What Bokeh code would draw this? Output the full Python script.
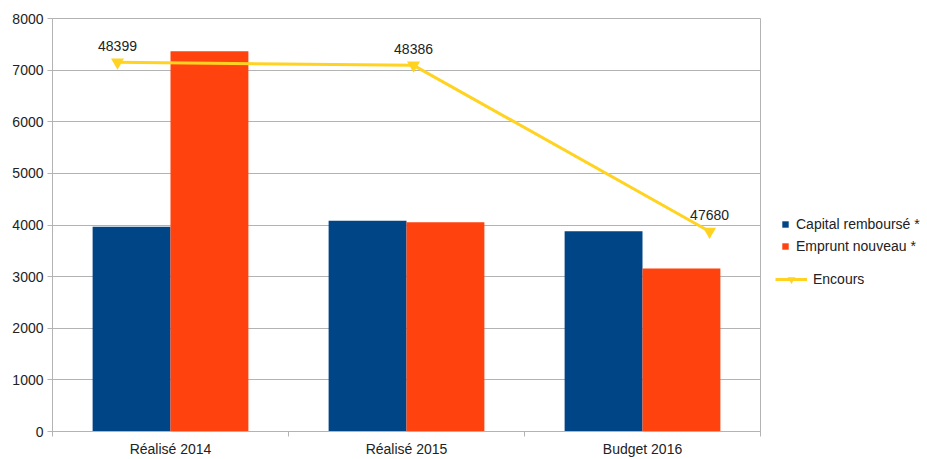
from bokeh.plotting import figure
from bokeh.layouts import row
from bokeh.models import (ColumnDataSource, Range1d, FixedTicker, Legend, LegendItem)
from bokeh.transform import dodge
from bokeh.embed import file_html
from bokeh.resources import INLINE
import numpy as np

categories = ["Réalisé 2014", "Réalisé 2015", "Budget 2016"]
capital = [3965, 4081, 3880]
emprunt = [7364, 4054, 3155]
encours = [48399, 48386, 47680]
y_ticks = [0, 1000, 2000, 3000, 4000, 5000, 6000, 7000, 8000]
series_names = ["Capital remboursé *", "Emprunt nouveau *", "Encours"]

FONT = "Liberation Sans"
TXT = "#222222"
GRID = "#b3b3b3"
C_CAP = "#004586"
C_EMP = "#ff420e"
C_ENC = "#ffd320"

idx = np.arange(len(categories))
src = ColumnDataSource(dict(x=idx + 0.5, cap=capital, emp=emprunt))
lsrc = ColumnDataSource(dict(i=idx, enc=encours, lab=[str(v) for v in encours]))

p = figure(width=770, height=459, output_backend="svg", toolbar_location=None,
           x_range=Range1d(0, len(categories)), y_range=Range1d(0, 8000),
           min_border_left=52, min_border_right=10, min_border_top=18,
           min_border_bottom=26)
p.extra_y_ranges = {"enc": Range1d(46830, 48585)}
p.extra_x_ranges = {"encx": Range1d(-0.2196, 2.172)}

p.background_fill_color = "white"
p.border_fill_color = "white"
p.outline_line_color = GRID
p.xgrid.visible = False
p.ygrid.grid_line_color = GRID
p.ygrid.ticker = FixedTicker(ticks=y_ticks)

p.vbar(x=dodge("x", -0.165, range=p.x_range), top="cap", width=0.33,
       source=src, color=C_CAP, line_color=None)
p.vbar(x=dodge("x", 0.165, range=p.x_range), top="emp", width=0.33,
       source=src, color=C_EMP, line_color=None)

p.line(x="i", y="enc", source=lsrc, x_range_name="encx", y_range_name="enc",
       line_color=C_ENC, line_width=3)
p.scatter(x="i", y="enc", source=lsrc, x_range_name="encx", y_range_name="enc",
          marker="inverted_triangle", size=13, color=C_ENC, line_color=None)
p.text(x="i", y="enc", text="lab", source=lsrc, x_range_name="encx", y_range_name="enc",
       text_align="center", text_baseline="middle", y_offset=-16,
       text_font={"value": FONT}, text_font_size="14px", text_color=TXT)

# axes
yax = p.yaxis[0]
yax.ticker = FixedTicker(ticks=y_ticks)
yax.axis_line_color = GRID
yax.major_tick_line_color = GRID
yax.major_tick_out = 5
yax.major_tick_in = 0
yax.minor_tick_line_color = None
yax.major_label_standoff = 4
yax.major_label_text_font = FONT
yax.major_label_text_font_size = "14px"
yax.major_label_text_color = TXT

xax = p.xaxis[0]
xax.ticker = FixedTicker(ticks=list(idx + 0.5), minor_ticks=list(range(len(categories) + 1)))
xax.major_label_overrides = {float(i + 0.5): c for i, c in enumerate(categories)}
xax.axis_line_color = GRID
xax.major_tick_line_color = None
xax.major_tick_out = 0
xax.major_tick_in = 0
xax.minor_tick_line_color = GRID
xax.minor_tick_out = 5
xax.minor_tick_in = 0
xax.major_label_standoff = 4
xax.major_label_text_font = FONT
xax.major_label_text_font_size = "14px"
xax.major_label_text_color = TXT

# legend panel (separate figure to the right); proxy renderers hold data
# outside the visible range so only their legend swatches show
lf = figure(width=157, height=459, output_backend="svg", toolbar_location=None,
            min_border=0, x_range=Range1d(0, 1), y_range=Range1d(0, 1))
lf.axis.visible = False
lf.grid.visible = False
lf.outline_line_color = None
lf.background_fill_color = "white"
lf.border_fill_color = "white"

proxy = ColumnDataSource(dict(x=[10, 11], y=[10, 11]))
d_cap = lf.vbar(x="x", top="y", width=0.1, source=proxy, color=C_CAP, line_color=None)
d_emp = lf.vbar(x="x", top="y", width=0.1, source=proxy, color=C_EMP, line_color=None)
d_line = lf.line(x="x", y="y", source=proxy, line_color=C_ENC, line_width=3)
d_mark = lf.scatter(x="x", y="y", source=proxy, marker="inverted_triangle", size=13,
                    color=C_ENC, line_color=None)

leg1 = Legend(items=[LegendItem(label=series_names[0], renderers=[d_cap], index=0),
                     LegendItem(label=series_names[1], renderers=[d_emp], index=0)],
              location=(11, 177), glyph_width=8, glyph_height=8, label_standoff=7,
              label_height=16, spacing=6, padding=0, margin=0,
              border_line_color=None, background_fill_alpha=0,
              label_text_font=FONT, label_text_font_size="14px", label_text_color=TXT)
leg2 = Legend(items=[LegendItem(label=series_names[2], renderers=[d_line, d_mark], index=0)],
              location=(5, 142), glyph_width=32, glyph_height=20, label_standoff=6,
              label_height=16, padding=0, margin=0,
              border_line_color=None, background_fill_alpha=0,
              label_text_font=FONT, label_text_font_size="14px", label_text_color=TXT)
lf.add_layout(leg1, "center")
lf.add_layout(leg2, "center")

layout = row(p, lf)
open("out.html", "w").write(file_html(layout, INLINE))
